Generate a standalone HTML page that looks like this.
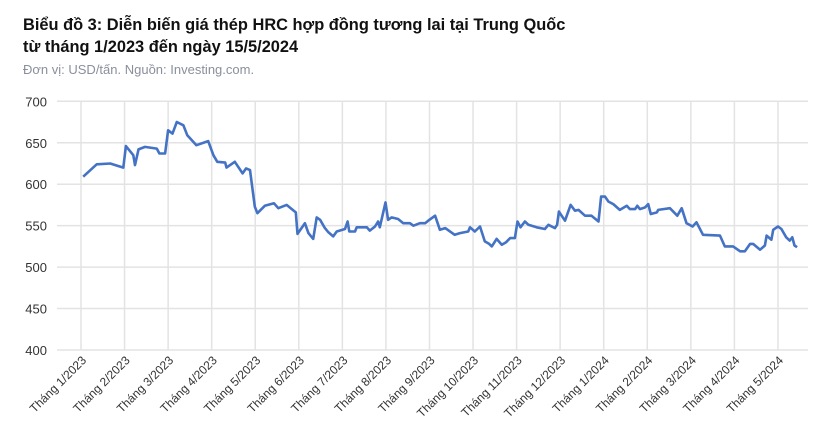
<!DOCTYPE html>
<html><head><meta charset="utf-8"><style>
body{margin:0;width:818px;height:441px;background:#fff;overflow:hidden;font-family:"Liberation Sans",sans-serif}
.t{position:absolute;left:23px;font-weight:bold;font-size:16.4px;color:#111;line-height:22px}
.s{position:absolute;left:23px;top:62px;font-size:13px;color:#8a8f9c}
</style></head><body>
<div class="t" style="top:14px">Biểu đồ 3: Diễn biến giá thép HRC hợp đồng tương lai tại Trung Quốc<br>từ tháng 1/2023 đến ngày 15/5/2024</div>
<div class="s">Đơn vị: USD/tấn. Nguồn: Investing.com.</div>
<svg id="c" width="818" height="441" style="position:absolute;left:0;top:0"></svg>
<script>
const monthLabels=["Tháng 1/2023","Tháng 2/2023","Tháng 3/2023","Tháng 4/2023","Tháng 5/2023","Tháng 6/2023","Tháng 7/2023","Tháng 8/2023","Tháng 9/2023","Tháng 10/2023","Tháng 11/2023","Tháng 12/2023","Tháng 1/2024","Tháng 2/2024","Tháng 3/2024","Tháng 4/2024","Tháng 5/2024"];
const yTicks=[400,450,500,550,600,650,700];
const times=[0.05,0.36,0.67,0.97,1.03,1.20,1.24,1.32,1.47,1.74,1.80,1.93,2.00,2.10,2.20,2.35,2.44,2.65,2.92,3.04,3.13,3.31,3.34,3.53,3.71,3.79,3.88,3.99,4.05,4.22,4.43,4.53,4.72,4.93,4.97,5.14,5.22,5.33,5.41,5.49,5.60,5.68,5.79,5.87,6.06,6.12,6.16,6.29,6.33,6.56,6.63,6.75,6.82,6.86,6.99,7.05,7.13,7.28,7.40,7.55,7.63,7.78,7.90,7.97,8.13,8.24,8.36,8.58,8.70,8.89,8.93,9.04,9.16,9.27,9.37,9.43,9.54,9.66,9.76,9.85,9.96,10.02,10.09,10.19,10.27,10.46,10.65,10.73,10.88,10.93,10.97,11.11,11.24,11.34,11.42,11.57,11.72,11.88,11.94,12.03,12.11,12.22,12.37,12.53,12.60,12.72,12.77,12.83,12.95,13.02,13.08,13.22,13.25,13.37,13.52,13.69,13.79,13.90,14.04,14.13,14.28,14.67,14.78,14.97,15.13,15.24,15.36,15.43,15.59,15.70,15.74,15.85,15.89,16.00,16.08,16.19,16.27,16.33,16.38,16.44];
const prices=[609,624,625,620,646,635,623,642,645,643,637,637,665,661,675,671,659,647,652,635,627,626,620,627,613,619,617,573,565,574,577,571,575,566,540,553,541,534,560,557,547,542,537,543,546,555,543,543,548,548,544,549,555,548,578,557,560,558,553,553,550,553,553,556,562,545,547,539,541,543,548,543,549,531,528,525,534,527,530,535,535,555,548,555,551,548,546,551,547,551,567,556,575,568,569,562,562,555,585,585,579,576,569,574,570,570,574,570,572,576,564,566,569,570,571,562,571,553,549,554,539,538,525,525,519,519,528,528,521,526,538,533,545,549,546,536,532,536,526,524];
const svg=document.getElementById('c'),NS='http://www.w3.org/2000/svg';
const L=57,R=808,X0=81,DX=43.56,Y700=101.3,Y400=350;
const xs=m=>X0+m*DX, ys=v=>Y400-(v-400)*(Y400-Y700)/300;
function mk(t,a){const e=document.createElementNS(NS,t);for(const k in a)e.setAttribute(k,a[k]);svg.appendChild(e);return e;}
yTicks.forEach(v=>{
 const g=mk('line',{x1:L,x2:R,y1:ys(v),y2:ys(v),stroke:'#e3e3e3','stroke-width':1.5});
 
 
 const t=mk('text',{x:47,y:ys(v)+5,'text-anchor':'end','font-size':13,fill:'#333'});t.textContent=v;
 
 
});
monthLabels.forEach((lb,i)=>{
 const x=xs(i);
 const g=mk('line',{x1:x,x2:x,y1:Y700,y2:Y400,stroke:'#e3e3e3','stroke-width':1.5});
 
 
 const t=mk('text',{x:x+6,y:Y400+11,'text-anchor':'end','font-size':12,fill:'#333',transform:`rotate(-45 ${x+6} ${Y400+11})`});t.textContent=lb;
 
 
});
const d=times.map((m,i)=>(i?'L':'M')+xs(m).toFixed(1)+' '+ys(prices[i]).toFixed(1)).join(' ');
const p=mk('path',{d:d,fill:'none',stroke:'#4472c4','stroke-width':2.6,'stroke-linejoin':'round'});


</script>
</body></html>
